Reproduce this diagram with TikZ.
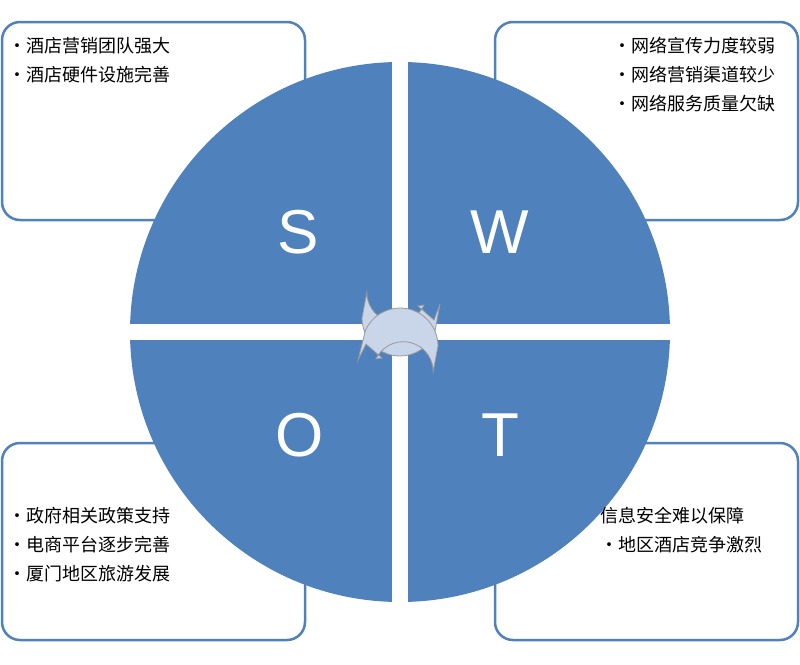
\documentclass[tikz,border=0pt]{standalone}
\usepackage{fontspec}
\setmainfont{Liberation Sans}
\newfontfamily\cjk{Noto Sans CJK SC}
\definecolor{sblue}{HTML}{4F81BD}
\definecolor{arfill}{HTML}{C9D5E8}
\begin{document}
\begin{tikzpicture}[x=1pt,y=-1pt,
  box/.style={draw=sblue,line width=2.5pt,rounded corners=18pt,fill=white},
  txt/.style={font=\cjk\fontsize{18}{20}\selectfont,inner sep=0pt},
  big/.style={font=\fontsize{62}{70}\selectfont,text=white}]
\useasboundingbox (0,0) rectangle (800,664);
\draw[box] (2,22) rectangle (305,220);
\draw[box] (495,22) rectangle (798,220);
\draw[box] (2,443) rectangle (305,640);
\draw[box] (495,443) rectangle (798,640);
\fill[sblue] (400,332) circle[radius=270];
\fill[white] (392,55) rectangle (408,610);
\fill[white] (120,324) rectangle (680,340);
\node[big] (S) at (298,232) {S};
\node[big] (W) at (500,232) {W};
\node[big] (O) at (300,435) {O};
\node[big] (T) at (500,435) {T};
\node[txt,anchor=west] (s1) at (8,46) {•酒店营销团队强大};
\node[txt,anchor=west] (s2) at (8,75) {•酒店硬件设施完善};
\node[txt,anchor=east] (w1) at (776,46) {•网络宣传力度较弱};
\node[txt,anchor=east] (w2) at (776,75) {•网络营销渠道较少};
\node[txt,anchor=east] (w3) at (776,104) {•网络服务质量欠缺};
\node[txt,anchor=west] (o1) at (8,516) {•政府相关政策支持};
\node[txt,anchor=west] (o2) at (8,545) {•电商平台逐步完善};
\node[txt,anchor=west] (o3) at (8,574) {•厦门地区旅游发展};
\node[txt,anchor=west] (t1) at (600,516) {信息安全难以保障};
\node[txt,anchor=west] (t2) at (600,545) {•地区酒店竞争激烈};
% circular arrows
\draw[draw=gray!80,fill=arfill,line width=0.8pt]
  (362,318) arc[start angle=180,end angle=25,radius=38]
  -- (440,304) -- (434,320) -- (418,306) -- (424,305)
  arc[start angle=25,end angle=180,radius=30] -- cycle;
\draw[draw=gray!80,fill=arfill,line width=0.8pt]
  (438,346) arc[start angle=0,end angle=-155,radius=38]
  -- (358,360) -- (366,344) -- (382,358) -- (376,359)
  arc[start angle=-155,end angle=0,radius=30] -- cycle;
\end{tikzpicture}
\end{document}
